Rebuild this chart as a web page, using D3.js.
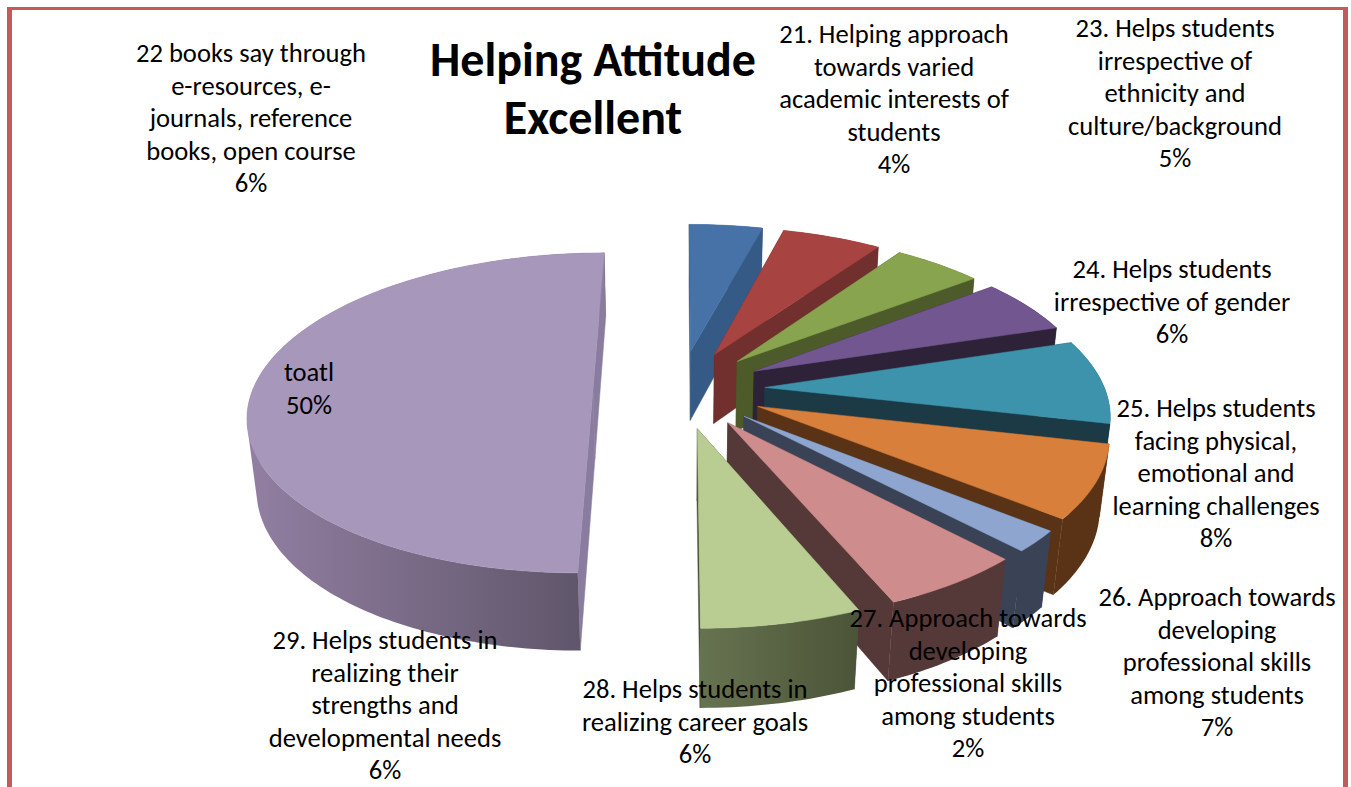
<!DOCTYPE html>
<html><head><meta charset="utf-8">
<script src="https://cdn.jsdelivr.net/npm/d3@7/dist/d3.min.js"></script>
<style>html,body{margin:0;padding:0;background:#fff}svg{display:block}</style>
</head><body><svg id="chart" width="1351" height="787"></svg>
<script>
// ---- data ----
const categories = [
  ["21. Helping approach","towards varied","academic interests of","students"],
  ["22 books say through","e-resources, e-","journals, reference","books, open course"],
  ["23. Helps students","irrespective of","ethnicity and","culture/background"],
  ["24. Helps students","irrespective of gender"],
  ["25. Helps students","facing physical,","emotional and","learning challenges"],
  ["26. Approach towards","developing","professional skills","among students"],
  ["27. Approach towards","developing","professional skills","among students"],
  ["28. Helps students in","realizing career goals"],
  ["29. Helps students in","realizing their","strengths and","developmental needs"],
  ["toatl"]
];
const values = [4.1,5.55,4.95,5.55,8.45,7.25,2.1,5.75,6.3,50];
const titleLines = ["Helping Attitude","Excellent"];
// ---- style & layout ----
const topColors  = ["#4672A8","#A74340","#88A44E","#725690","#3E93AC","#D87F3B","#8EA6CF","#CE8D8C","#B9CC91","#A797BB"];
const wallColors = ["#355A85","#712F2D","#4D5A29","#2E2238","#1B3A46","#5A3316","#3A4356","#553838","#4D5638","#8A7C9E"];
const rimStart   = ["#355A85","#712F2D","#4D5A29","#2E2238","#1B3A46","#5A3316","#3A4356","#553838","#667350","#927FA2"];
const rimEnd     = ["#355A85","#712F2D","#4D5A29","#2E2238","#1B3A46","#5A3316","#3A4356","#553838","#4B5437","#5C5366"];
const explode    = [85,85,85,85,85,85,85,85,85,87];
const labelX = [894,251,1175,1172,1216,1217,968,695,385,309];
const labelY = [43,62,37,278,417,606,627,698,649,381];
const fontFamily = "Carlito, Calibri, Lato, sans-serif";

// camera: perspective of the plane of the pie
const cam = {cx:680, horizon:-660, b:1049, D:2280, H:95, c:0.022};
const R = 340;
const project = (X,Y,Z) => {
  const w = 1 + Y/cam.D + cam.c*Z;
  return [cam.cx + X/w, cam.horizon + (cam.b + cam.H*Z)/w];
};

const svg = d3.select("#chart");
svg.append("rect").attr("width",1351).attr("height",787).attr("fill","#fff");

const defs = svg.append("defs");
const line = d3.line();
const arcs = d3.pie().sort(null).value(d=>d)(values);
const layer = svg.append("g");

arcs.forEach((a,i)=>{
  const mid = (a.startAngle+a.endAngle)/2;
  const ox = explode[i]*Math.sin(mid), oy = explode[i]*Math.cos(mid);
  const rimPt = (t,z)=>project(ox+R*Math.sin(t), oy+R*Math.cos(t), z);
  const apex = z=>project(ox,oy,z);
  const n = Math.max(4,Math.ceil((a.endAngle-a.startAngle)/0.02));
  const ts = d3.range(n+1).map(k=>a.startAngle+(a.endAngle-a.startAngle)*k/n);
  const g = layer.append("g");
  const gid = "rim"+i;
  const xs = ts.flatMap(t=>[rimPt(t,0)[0],rimPt(t,1)[0]]);
  const grad = defs.append("linearGradient").attr("id",gid).attr("gradientUnits","userSpaceOnUse")
    .attr("x1",d3.min(xs)).attr("x2",d3.max(xs)).attr("y1",0).attr("y2",0);
  grad.append("stop").attr("offset","0%").attr("stop-color",rimStart[i]);
  grad.append("stop").attr("offset","100%").attr("stop-color",rimEnd[i]);
  const wall = t => g.append("path").attr("d",line([apex(0),rimPt(t,0),rimPt(t,1),apex(1)])+"Z")
      .attr("fill",wallColors[i]).attr("stroke",wallColors[i]).attr("stroke-width",0.5);
  wall(a.startAngle);
  // outer rim: quads wound the same way in one path, so sheets either side of the silhouette never cancel
  const rimD = d3.pairs(ts).map(([t0,t1])=>{
    const q = [rimPt(t0,0),rimPt(t1,0),rimPt(t1,1),rimPt(t0,1)];
    return line(d3.polygonArea(q)<0 ? q.reverse() : q)+"Z";
  }).join("");
  g.append("path").attr("d",rimD).attr("fill",`url(#${gid})`);
  wall(a.endAngle);
  // top
  const top = [apex(0)].concat(ts.map(t=>rimPt(t,0)));
  g.append("path").attr("d",line(top)+"Z").attr("fill",topColors[i]).attr("stroke",topColors[i]).attr("stroke-width",0.5);
});

// frame
const frameColor = "#C55A5A";
svg.append("path").attr("fill",frameColor).attr("fill-rule","evenodd")
  .attr("d","M7,7H1348V787H1343V10H12V787H7Z");

// labels
const pct = d3.format(".0%"), total = d3.sum(values);
const labels = svg.append("g").attr("font-family",fontFamily).attr("font-size",26.6).attr("fill","#000").attr("text-anchor","middle");
categories.forEach((lines,i)=>{
  const all = lines.concat([pct(values[i]/total)]);
  const t = labels.append("text").attr("transform",`translate(${labelX[i]},${labelY[i]})`);
  all.forEach((s,k)=>t.append("tspan").attr("x",0).attr("y",k*32.6).text(s));
});
// title
const title = svg.append("text").attr("transform","translate(593,76)").attr("font-family",fontFamily)
  .attr("font-size",48).attr("font-weight",700).attr("fill","#000").attr("text-anchor","middle");
titleLines.forEach((s,k)=>title.append("tspan").attr("x",0).attr("y",k*57.5).text(s));
</script></body></html>
